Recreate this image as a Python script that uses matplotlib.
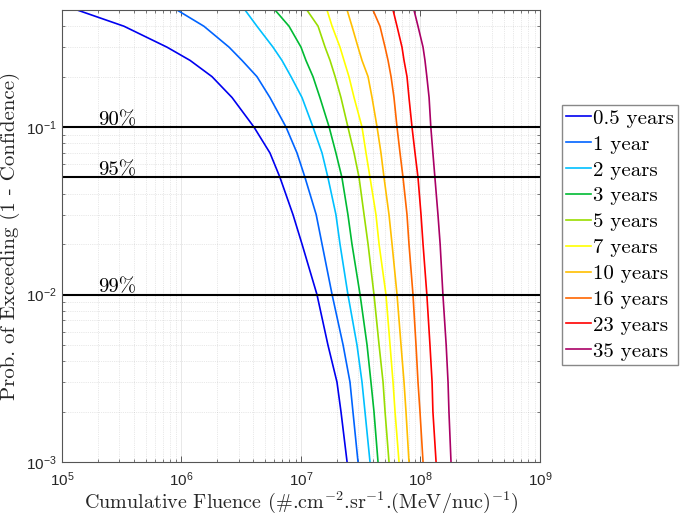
import matplotlib
matplotlib.use("Agg")
import matplotlib.pyplot as plt

plt.rcParams["font.family"] = "cmr10"
plt.rcParams["mathtext.fontset"] = "cm"
plt.rcParams["axes.formatter.use_mathtext"] = True

prob_levels = [0.5, 0.4, 0.3, 0.25, 0.2, 0.15, 0.1, 0.07, 0.05,
               0.03, 0.02, 0.01, 0.005, 0.003, 0.002, 0.001]

durations = ["0.5 years", "1 year", "2 years", "3 years", "5 years",
             "7 years", "10 years", "16 years", "23 years", "35 years"]

fluence_05y = [1.34e5, 3.30e5, 7.56e5, 1.18e6, 1.80e6, 2.65e6, 4.04e6, 5.50e6,
               6.67e6, 8.57e6, 1.02e7, 1.36e7, 1.68e7, 2.00e7, 2.16e7, 2.43e7]
fluence_1y = [9.17e5, 1.54e6, 2.50e6, 3.21e6, 4.28e6, 5.50e6, 7.49e6, 9.26e6,
              1.08e7, 1.34e7, 1.50e7, 1.82e7, 2.25e7, 2.57e7, 2.72e7, 3.00e7]
fluence_2y = [3.40e6, 4.28e6, 5.83e6, 6.93e6, 8.25e6, 1.02e7, 1.26e7, 1.50e7,
              1.68e7, 1.96e7, 2.12e7, 2.47e7, 2.94e7, 3.24e7, 3.43e7, 3.78e7]
fluence_3y = [6.06e6, 7.94e6, 1.00e7, 1.10e7, 1.26e7, 1.44e7, 1.72e7, 1.96e7,
              2.20e7, 2.47e7, 2.67e7, 3.12e7, 3.57e7, 3.85e7, 4.08e7, 4.41e7]
fluence_5y = [1.12e7, 1.39e7, 1.59e7, 1.75e7, 1.93e7, 2.16e7, 2.47e7, 2.78e7,
              3.06e7, 3.37e7, 3.64e7, 4.08e7, 4.50e7, 4.86e7, 5.05e7, 5.45e7]
fluence_7y = [1.65e7, 1.82e7, 2.12e7, 2.29e7, 2.52e7, 2.78e7, 3.24e7, 3.50e7,
              3.78e7, 4.24e7, 4.50e7, 5.14e7, 5.56e7, 5.89e7, 6.12e7, 6.61e7]
fluence_10y = [2.43e7, 2.67e7, 3.00e7, 3.24e7, 3.64e7, 3.93e7, 4.33e7, 4.67e7,
               4.95e7, 5.45e7, 5.78e7, 6.36e7, 6.87e7, 7.28e7, 7.56e7, 8.01e7]
fluence_16y = [4.00e7, 4.58e7, 5.05e7, 5.35e7, 5.67e7, 6.00e7, 6.36e7, 6.74e7,
               7.14e7, 7.71e7, 8.01e7, 8.65e7, 9.17e7, 9.53e7, 9.90e7, 1.05e8]
fluence_23y = [5.89e7, 6.36e7, 7.00e7, 7.28e7, 7.71e7, 8.01e7, 8.49e7, 9.00e7,
               9.53e7, 1.01e8, 1.05e8, 1.13e8, 1.20e8, 1.25e8, 1.27e8, 1.35e8]
fluence_35y = [8.82e7, 9.53e7, 1.05e8, 1.09e8, 1.13e8, 1.18e8, 1.22e8, 1.27e8,
               1.32e8, 1.40e8, 1.46e8, 1.54e8, 1.64e8, 1.70e8, 1.73e8, 1.80e8]

all_fluences = [fluence_05y, fluence_1y, fluence_2y, fluence_3y, fluence_5y,
                fluence_7y, fluence_10y, fluence_16y, fluence_23y, fluence_35y]

colors = ["#0000F0", "#0064FF", "#00C0FF", "#00BB33", "#99DD00",
          "#FFFF00", "#FFBF00", "#FF6600", "#FF0000", "#AA0066"]

confidence_levels = [0.1, 0.05, 0.01]
confidence_labels = ["90%", "95%", "99%"]

fig = plt.figure(figsize=(6.83, 5.13), dpi=100)
ax = fig.add_axes([62 / 683, 51 / 513, 478 / 683, 452 / 513])

for fluence, color, label in zip(all_fluences, colors, durations):
    ax.plot(fluence, prob_levels, color=color, lw=1.2, label=label,
            solid_joinstyle="round")

for level, text in zip(confidence_levels, confidence_labels):
    ax.axhline(level, color="black", lw=1.5)
    ax.text(2.0e5, level * 1.03, text, fontsize=15, va="baseline", ha="left")

ax.set_xscale("log")
ax.set_yscale("log")
ax.set_xlim(1e5, 1e9)
ax.set_ylim(1e-3, 0.5)

ax.grid(True, which="major", color="#262626", alpha=0.12, lw=0.6)
ax.grid(True, which="minor", color="#262626", alpha=0.2, lw=0.5, ls=":")

for spine in ax.spines.values():
    spine.set_color("#555555")
    spine.set_linewidth(0.8)

ax.tick_params(which="both", direction="in", top=True, right=True,
               color="#444444", labelcolor="#262626",
               labelfontfamily="Liberation Sans", labelsize=11)
ax.tick_params(which="major", length=4.5, width=0.6)
ax.tick_params(which="minor", length=2.5, width=0.5)
ax.tick_params(axis="x", pad=6)
ax.tick_params(axis="y", pad=4)

ax.set_xlabel("Cumulative Fluence (#.cm$^{-2}$.sr$^{-1}$.(MeV/nuc)$^{-1}$)",
              fontsize=14.5, color="#262626")
ax.set_ylabel("Prob. of Exceeding (1 - Confidence)", fontsize=15, color="#262626")
ax.xaxis.set_label_coords(0.5, -0.06)
ax.yaxis.set_label_coords(-0.088, 0.5)

fig.legend(loc="upper left", bbox_to_anchor=(562 / 683, 1 - 105 / 513),
           bbox_transform=fig.transFigure, fontsize=15, frameon=True,
           fancybox=False, edgecolor="#888888", framealpha=1,
           handlelength=1.2, handletextpad=0.1, labelspacing=0.35,
           borderpad=0.2, borderaxespad=0)

fig.savefig("out.png", dpi=100)
